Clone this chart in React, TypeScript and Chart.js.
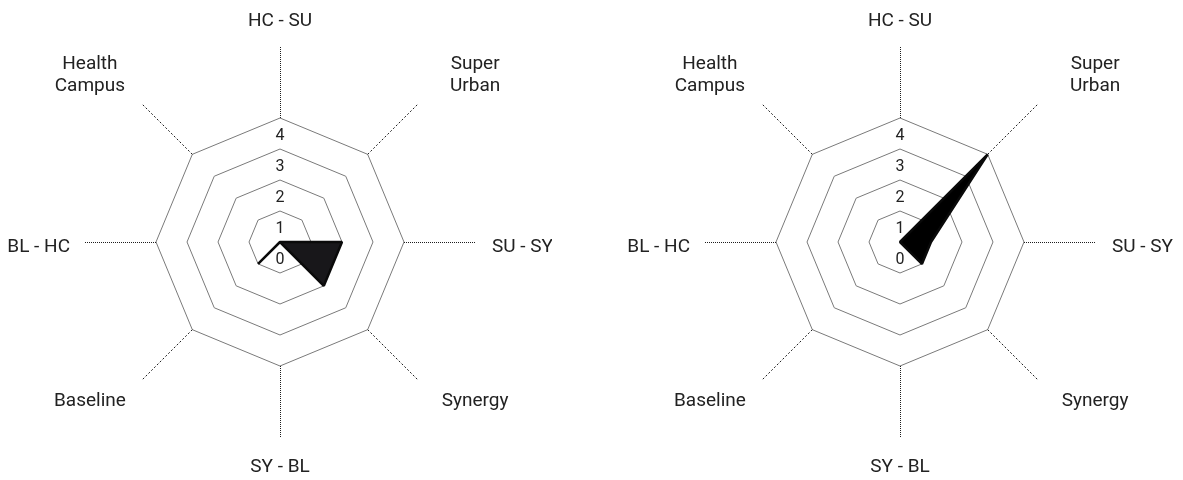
import React, { useEffect, useRef } from 'react';
import { Chart, registerables } from 'chart.js';

Chart.register(...registerables);

// ---- data ----
const categories: string[][] = [
  ['HC - SU'],
  ['Super', 'Urban'],
  ['SU - SY'],
  ['Synergy'],
  ['SY - BL'],
  ['Baseline'],
  ['BL - HC'],
  ['Health', 'Campus'],
];
const leftValues = [0, 0, 2, 2, 0, 1, 0, 0];
const rightValues = [0, 4, 1, 1, 0, 0, 0, 0];
const scaleMin = 0;
const scaleMax = 4;
const tickStep = 1;

const FONT = 'Roboto, "Noto Sans", sans-serif';

const decorPlugin = {
  id: 'decor',
  afterDraw(chart: any) {
    const s = chart.scales.r;
    const ctx: CanvasRenderingContext2D = chart.ctx;
    const labels: string[][] = chart.data.labels;
    const n = labels.length;
    const rOuter = s.getDistanceFromCenterForValue(s.max);
    const xc = s.xCenter;
    const yc = s.yCenter;
    ctx.save();

    // dotted spokes outside the outer ring
    ctx.strokeStyle = '#1e1e1e';
    ctx.lineWidth = 1;
    for (let i = 0; i < n; i++) {
      const a = s.getPointPosition(i, rOuter);
      const b = s.getPointPosition(i, rOuter + 72);
      let dx = 0;
      let dy = 0;
      const straight = Math.abs(a.x - b.x) < 0.01 || Math.abs(a.y - b.y) < 0.01;
      if (Math.abs(a.x - b.x) < 0.01) dx = 0.5;
      if (Math.abs(a.y - b.y) < 0.01) dy = 0.5;
      ctx.setLineDash(straight ? [1, 1] : [2, 2]);
      ctx.beginPath();
      ctx.moveTo(a.x + dx, a.y + dy);
      ctx.lineTo(b.x + dx, b.y + dy);
      ctx.stroke();
    }
    ctx.setLineDash([]);

    // point labels
    const fs = 19;
    const lh = 22;
    const cap = 0.711 * fs;
    ctx.font = `${fs}px ${FONT}`;
    ctx.fillStyle = '#222';
    ctx.textBaseline = 'alphabetic';
    const D = rOuter + 89;
    for (let i = 0; i < n; i++) {
      const lines = labels[i];
      const L = lines.length;
      const deg = Math.round((s.getIndexAngle(i) * 180) / Math.PI) % 360;
      const p = s.getPointPosition(i, D);
      let x = p.x;
      let firstBase = 0;
      let align: CanvasTextAlign = 'center';
      if (deg === 0) {
        x = xc;
        firstBase = yc - D - 3.5 - (L - 1) * lh;
      } else if (deg === 180) {
        x = xc;
        firstBase = yc + D + 3.5 + cap;
      } else if (deg === 90) {
        align = 'left';
        x = xc + D - 1;
        firstBase = yc + 3 + cap / 2 - ((L - 1) * lh) / 2;
      } else if (deg === 270) {
        align = 'right';
        x = xc - D + 3;
        firstBase = yc + 3 + cap / 2 - ((L - 1) * lh) / 2;
      } else {
        x = p.x + (p.x > xc ? 44.5 : -39.5);
        if (p.y < yc) firstBase = p.y - (L - 1) * lh;
        else firstBase = p.y + cap;
      }
      ctx.textAlign = align;
      lines.forEach((t, k) => ctx.fillText(t, x, firstBase + k * lh));
    }

    // tick labels
    const tfs = 16;
    ctx.font = `${tfs}px ${FONT}`;
    ctx.textAlign = 'center';
    ctx.fillStyle = '#222';
    s.ticks.forEach((t: any) => {
      const r = s.getDistanceFromCenterForValue(t.value);
      const cy = yc - r + 16.5;
      ctx.fillText(String(t.value), xc, cy + (0.711 * tfs) / 2);
    });
    ctx.restore();
  },
};

function Radar({ values, fill, left, width }: { values: number[]; fill: string; left: number; width: number }) {
  const ref = useRef<HTMLCanvasElement>(null);
  useEffect(() => {
    if (!ref.current) return;
    const chart = new Chart(ref.current, {
      type: 'radar',
      data: {
        labels: categories as any,
        datasets: [
          {
            data: values,
            backgroundColor: fill,
            borderColor: '#0a0a0a',
            borderWidth: 2.5,
            borderJoinStyle: 'bevel',
            fill: true,
            pointRadius: 0,
            pointHoverRadius: 0,
          } as any,
        ],
      },
      options: {
        responsive: false,
        animation: false,
        layout: { padding: { left: 148, right: width - 148 - 248, top: 110, bottom: 106 } },
        plugins: { legend: { display: false }, tooltip: { enabled: false } },
        scales: {
          r: {
            min: scaleMin,
            max: scaleMax,
            ticks: { display: false, stepSize: tickStep },
            grid: { color: '#7a7a7a', lineWidth: 1 },
            angleLines: { display: false },
            pointLabels: { display: false },
          },
        },
      },
      plugins: [decorPlugin],
    });
    return () => chart.destroy();
  }, []);
  return (
    <canvas
      ref={ref}
      width={width}
      height={464}
      style={{ position: 'absolute', left, top: 0, width, height: 464 }}
    />
  );
}

export default function App() {
  return (
    <div style={{ position: 'relative', width: 1167, height: 464 }}>
      <Radar values={leftValues} fill="#18171a" left={0} width={544} />
      <Radar values={rightValues} fill="#000" left={620} width={550} />
    </div>
  );
}
